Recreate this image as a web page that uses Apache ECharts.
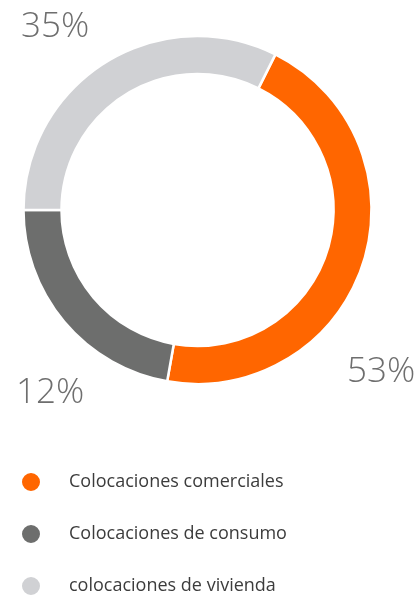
<!DOCTYPE html>
<html>
<head>
<meta charset="utf-8">
<script src="https://cdn.jsdelivr.net/npm/echarts@6/dist/echarts.min.js"></script>
<style>
  html, body { margin: 0; padding: 0; background: #fff; }
  #main { width: 416px; height: 595px; }
</style>
</head>
<body>
<div id="main"></div>
<script>
// datos
var categorias = ['Colocaciones comerciales', 'Colocaciones de consumo', 'colocaciones de vivienda']
// tamaño de cada arco
var valores = [45.4, 22.2, 32.4]
// porcentajes impresos junto al anillo
var etiquetas = ['53%', '12%', '35%']
var colores = ['#FF6600', '#6D6E6D', '#D0D1D4']

window.onload = function () {
  var myChart = echarts.init(document.getElementById('main'))

  var data = categorias.map(function (name, i) {
    return { name: name, value: valores[i], itemStyle: { color: colores[i] } }
  })

  // posición de cada porcentaje
  var labelPos = [
    { x: 347, y: 372 },
    { x: 16, y: 393 },
    { x: 21, y: 27 },
  ]

  // una leyenda por fila, para que no se parta en columnas
  var legendTops = [471, 523, 575]
  var legends = categorias.map(function (name, i) {
    return {
      left: 20,
      top: legendTops[i],
      padding: 0,
      icon: 'circle',
      itemWidth: 20,
      itemHeight: 20,
      selectedMode: false,
      textStyle: {
        fontFamily: 'Open Sans',
        fontSize: 18,
        color: '#3c3c3c',
        padding: [0, 0, 0, 23],
      },
      data: [name],
    }
  })

  var option = {
    animation: false,
    legend: legends,
    series: [
      {
        type: 'pie',
        center: [197.5, 210],
        radius: [136, 174],
        startAngle: 63.4,
        clockwise: true,
        avoidLabelOverlap: false,
        itemStyle: { borderColor: '#fff', borderWidth: 2.5 },
        emphasis: { disabled: true },
        label: {
          show: true,
          position: 'outside',
          formatter: function (p) {
            return etiquetas[p.dataIndex]
          },
          fontFamily: 'Open Sans',
          fontWeight: 300,
          fontSize: 35,
          color: '#6e6e6e',
        },
        labelLine: { show: false },
        labelLayout: function (p) {
          var pos = labelPos[p.dataIndex]
          return { x: pos.x, y: pos.y, align: 'left', verticalAlign: 'middle' }
        },
        data: data,
      },
    ],
  }

  myChart.setOption(option)
}
</script>
</body>
</html>
